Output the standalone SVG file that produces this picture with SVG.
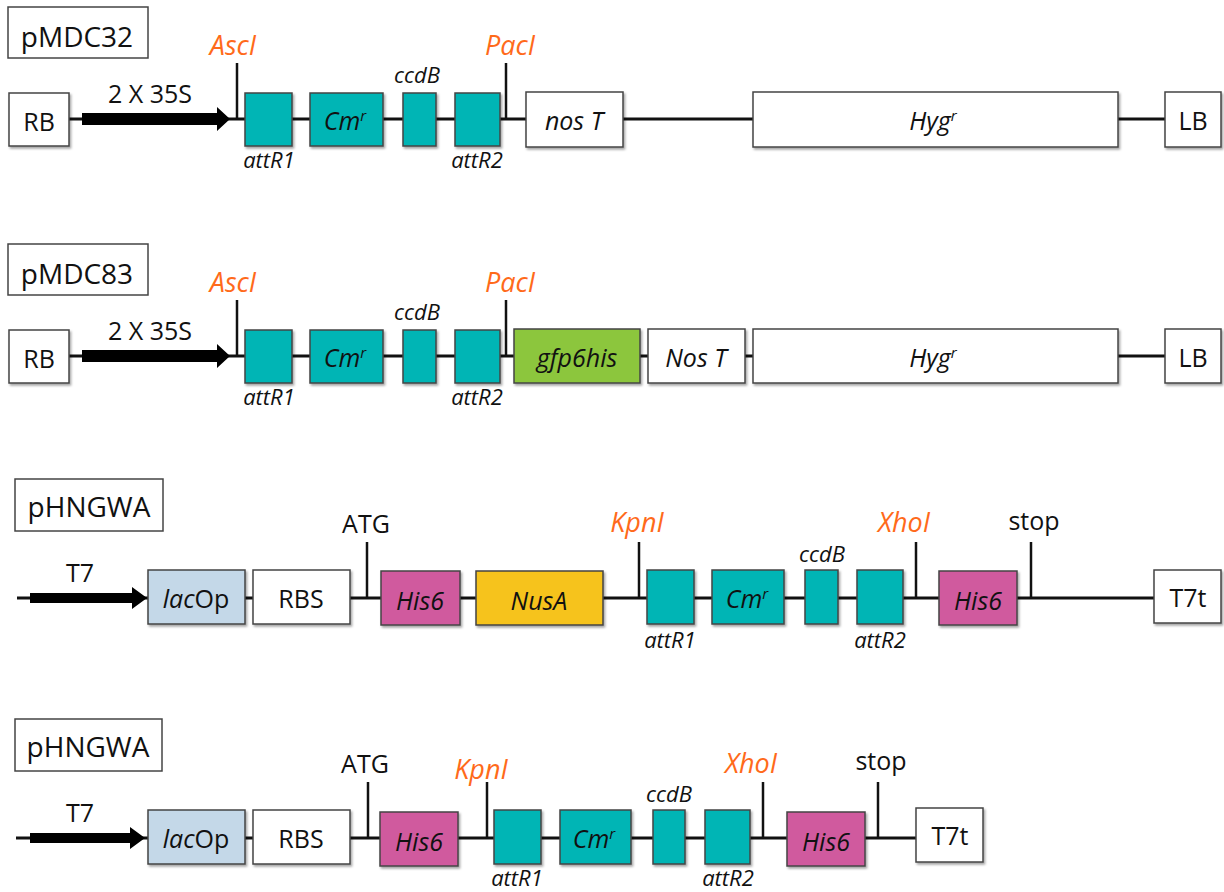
<svg xmlns="http://www.w3.org/2000/svg" width="1224" height="892" viewBox="0 0 1224 892">
<defs>
<filter id="sh" x="-10%" y="-10%" width="130%" height="130%">
<feDropShadow dx="1.5" dy="2" stdDeviation="1" flood-color="#000" flood-opacity="0.35"/>
</filter>
</defs>
<style>
text{font-family:"Open Sans","Liberation Sans",sans-serif;fill:#111;text-anchor:middle}
.t{font-size:28px}
.lb{font-size:25px}
.it{font-style:italic}
.sm{font-size:22px;font-style:italic}
.re{font-size:27px;font-style:italic;fill:#FF6A1A}
.sup{font-size:15px}
.box{stroke:#444;stroke-width:1.5;filter:url(#sh)}
.w{fill:#fff}
.teal{fill:#00B5B5}
.grn{fill:#8CC63E}
.yel{fill:#F6C31B}
.mag{fill:#D05A9E}
.blu{fill:#C4D8E8}
.title{fill:#fff;stroke:#444;stroke-width:1.5}
.ln{stroke:#111;stroke-width:3;fill:none}
.tk{stroke:#111;stroke-width:2.5;fill:none}
</style>

<g id="connectors">
<!-- row 1 -->
<line class="ln" x1="69" y1="119" x2="1165" y2="119"/>
<polygon points="82,113 217,113 217,107 230,119 217,131 217,125 82,125" fill="#000"/>
<line class="tk" x1="237" y1="63" x2="237" y2="119"/>
<line class="tk" x1="506" y1="63" x2="506" y2="119"/>
<!-- row 2 -->
<line class="ln" x1="69" y1="356" x2="1165" y2="356"/>
<polygon points="82,350 217,350 217,344 230,356 217,368 217,362 82,362" fill="#000"/>
<line class="tk" x1="237" y1="300" x2="237" y2="356"/>
<line class="tk" x1="506" y1="300" x2="506" y2="356"/>
<!-- row 3 -->
<line class="ln" x1="17" y1="598" x2="1154" y2="598"/>
<polygon points="30,593 132,593 132,587 147,598 132,609 132,603 30,603" fill="#000"/>
<line class="tk" x1="367" y1="542" x2="367" y2="598"/>
<line class="tk" x1="639" y1="542" x2="639" y2="598"/>
<line class="tk" x1="916" y1="542" x2="916" y2="598"/>
<line class="tk" x1="1031" y1="542" x2="1031" y2="598"/>
<!-- row 4 -->
<line class="ln" x1="16" y1="838" x2="916" y2="838"/>
<polygon points="30,833 130,833 130,827 145,838 130,849 130,843 30,843" fill="#000"/>
<line class="tk" x1="368" y1="782" x2="368" y2="838"/>
<line class="tk" x1="487" y1="782" x2="487" y2="838"/>
<line class="tk" x1="763" y1="782" x2="763" y2="838"/>
<line class="tk" x1="878" y1="782" x2="878" y2="838"/>
</g>

<!-- ============ ROW 1: pMDC32 ============ -->
<g id="r1-title"><rect class="title" x="8" y="7" width="140" height="51"/><text class="t" x="77" y="47">pMDC32</text></g>
<g id="r1-ascI"><text class="re" x="233" y="55">AscI</text></g>
<g id="r1-pacI"><text class="re" x="510" y="55">PacI</text></g>
<g id="r1-35s"><text class="lb" x="150" y="103">2 X 35S</text></g>
<g id="r1-RB"><rect class="box w" x="9" y="93" width="60" height="53"/><text class="lb" x="39" y="131">RB</text></g>
<g id="r1-attR1"><rect class="box teal" x="245" y="93" width="47" height="53"/><text class="sm" x="269" y="168">attR1</text></g>
<g id="r1-Cmr"><rect class="box teal" x="310" y="93" width="73" height="53"/><text class="lb it" x="345" y="130">Cm<tspan class="sup" dy="-9">r</tspan></text></g>
<g id="r1-ccdB"><rect class="box teal" x="403" y="93" width="33" height="53"/><text class="sm" x="417" y="83">ccdB</text></g>
<g id="r1-attR2"><rect class="box teal" x="455" y="93" width="45" height="53"/><text class="sm" x="477" y="168">attR2</text></g>
<g id="r1-nosT"><rect class="box w" x="526" y="92" width="97" height="55"/><text class="lb it" x="574" y="130">nos T</text></g>
<g id="r1-Hyg"><rect class="box w" x="753" y="92" width="365" height="55"/><text class="lb it" x="933" y="130">Hyg<tspan class="sup" dy="-9">r</tspan></text></g>
<g id="r1-LB"><rect class="box w" x="1165" y="92" width="56" height="55"/><text class="lb" x="1193" y="130">LB</text></g>

<!-- ============ ROW 2: pMDC83 ============ -->
<g id="r2-title"><rect class="title" x="8" y="244" width="140" height="51"/><text class="t" x="77" y="284">pMDC83</text></g>
<g id="r2-ascI"><text class="re" x="233" y="292">AscI</text></g>
<g id="r2-pacI"><text class="re" x="510" y="292">PacI</text></g>
<g id="r2-35s"><text class="lb" x="150" y="340">2 X 35S</text></g>
<g id="r2-RB"><rect class="box w" x="9" y="330" width="60" height="53"/><text class="lb" x="39" y="368">RB</text></g>
<g id="r2-attR1"><rect class="box teal" x="245" y="330" width="47" height="53"/><text class="sm" x="269" y="405">attR1</text></g>
<g id="r2-Cmr"><rect class="box teal" x="310" y="330" width="73" height="53"/><text class="lb it" x="345" y="367">Cm<tspan class="sup" dy="-9">r</tspan></text></g>
<g id="r2-ccdB"><rect class="box teal" x="403" y="330" width="33" height="53"/><text class="sm" x="417" y="320">ccdB</text></g>
<g id="r2-attR2"><rect class="box teal" x="455" y="330" width="45" height="53"/><text class="sm" x="477" y="405">attR2</text></g>
<g id="r2-gfp"><rect class="box grn" x="514" y="329" width="126" height="54"/><text class="lb it" x="577" y="367">gfp6his</text></g>
<g id="r2-nosT"><rect class="box w" x="648" y="329" width="97" height="54"/><text class="lb it" x="696" y="367">Nos T</text></g>
<g id="r2-Hyg"><rect class="box w" x="753" y="329" width="365" height="54"/><text class="lb it" x="933" y="367">Hyg<tspan class="sup" dy="-9">r</tspan></text></g>
<g id="r2-LB"><rect class="box w" x="1165" y="329" width="56" height="54"/><text class="lb" x="1193" y="367">LB</text></g>

<!-- ============ ROW 3: pHNGWA ============ -->
<g id="r3-title"><rect class="title" x="15" y="479" width="148" height="52"/><text class="t" x="89" y="517">pHNGWA</text></g>
<g id="r3-T7"><text class="lb" x="80" y="582">T7</text></g>
<g id="r3-ATG"><text class="lb" x="366" y="533">ATG</text></g>
<g id="r3-kpnI"><text class="re" x="637" y="532">KpnI</text></g>
<g id="r3-xhoI"><text class="re" x="904" y="532">XhoI</text></g>
<g id="r3-stop"><text class="lb" x="1034" y="530">stop</text></g>
<g id="r3-lacOp"><rect class="box blu" x="148" y="570" width="97" height="54"/><text class="lb" x="196" y="608"><tspan font-style="italic">lac</tspan>Op</text></g>
<g id="r3-RBS"><rect class="box w" x="253" y="570" width="97" height="54"/><text class="lb" x="301" y="608">RBS</text></g>
<g id="r3-His6a"><rect class="box mag" x="381" y="571" width="79" height="54"/><text class="lb it" x="420" y="610">His6</text></g>
<g id="r3-NusA"><rect class="box yel" x="476" y="571" width="127" height="54"/><text class="lb it" x="539" y="610">NusA</text></g>
<g id="r3-attR1"><rect class="box teal" x="647" y="570" width="47" height="54"/><text class="sm" x="670" y="648">attR1</text></g>
<g id="r3-Cmr"><rect class="box teal" x="712" y="570" width="72" height="54"/><text class="lb it" x="747" y="608">Cm<tspan class="sup" dy="-9">r</tspan></text></g>
<g id="r3-ccdB"><rect class="box teal" x="805" y="570" width="33" height="54"/><text class="sm" x="822" y="562">ccdB</text></g>
<g id="r3-attR2"><rect class="box teal" x="857" y="570" width="46" height="54"/><text class="sm" x="880" y="648">attR2</text></g>
<g id="r3-His6b"><rect class="box mag" x="939" y="571" width="78" height="54"/><text class="lb it" x="978" y="610">His6</text></g>
<g id="r3-T7t"><rect class="box w" x="1154" y="570" width="67" height="53"/><text class="lb" x="1188" y="607">T7t</text></g>

<!-- ============ ROW 4: pHNGWA ============ -->
<g id="r4-title"><rect class="title" x="15" y="719" width="147" height="52"/><text class="t" x="88" y="757">pHNGWA</text></g>
<g id="r4-T7"><text class="lb" x="80" y="822">T7</text></g>
<g id="r4-ATG"><text class="lb" x="365" y="773">ATG</text></g>
<g id="r4-kpnI"><text class="re" x="481" y="779">KpnI</text></g>
<g id="r4-xhoI"><text class="re" x="751" y="773">XhoI</text></g>
<g id="r4-stop"><text class="lb" x="881" y="770">stop</text></g>
<g id="r4-lacOp"><rect class="box blu" x="148" y="810" width="97" height="54"/><text class="lb" x="196" y="848"><tspan font-style="italic">lac</tspan>Op</text></g>
<g id="r4-RBS"><rect class="box w" x="253" y="810" width="97" height="54"/><text class="lb" x="301" y="848">RBS</text></g>
<g id="r4-His6a"><rect class="box mag" x="380" y="812" width="78" height="54"/><text class="lb it" x="419" y="851">His6</text></g>
<g id="r4-attR1"><rect class="box teal" x="494" y="810" width="47" height="54"/><text class="sm" x="517" y="886">attR1</text></g>
<g id="r4-Cmr"><rect class="box teal" x="560" y="810" width="71" height="54"/><text class="lb it" x="594" y="848">Cm<tspan class="sup" dy="-9">r</tspan></text></g>
<g id="r4-ccdB"><rect class="box teal" x="653" y="810" width="32" height="54"/><text class="sm" x="669" y="802">ccdB</text></g>
<g id="r4-attR2"><rect class="box teal" x="705" y="810" width="45" height="54"/><text class="sm" x="728" y="886">attR2</text></g>
<g id="r4-His6b"><rect class="box mag" x="787" y="812" width="78" height="54"/><text class="lb it" x="826" y="851">His6</text></g>
<g id="r4-T7t"><rect class="box w" x="916" y="808" width="67" height="54"/><text class="lb" x="950" y="845">T7t</text></g>
</svg>
